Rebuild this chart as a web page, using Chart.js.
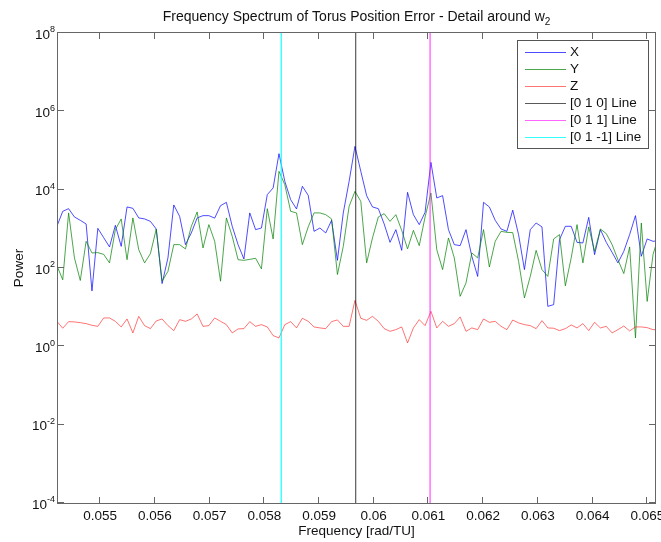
<!DOCTYPE html>
<html>
<head>
<meta charset="utf-8">
<script src="https://cdn.jsdelivr.net/npm/chart.js@4"></script>
<style>
html,body{margin:0;padding:0;background:#fff;}
canvas{display:block;}
</style>
</head>
<body>
<canvas id="spectrum" width="661" height="542"></canvas>
<script>
const FONT = '"Liberation Sans", Arial, Helvetica, sans-serif';

// FFT bin grid [rad/TU]
const freqStart = 0.054210;
const freqStep = 0.0001068;

// Power per bin for each position error component
const powerX = [
  1160, 2800, 3270, 2010, 1650, 1330, 26, 1030, 596, 345,
  1230, 357, 3620, 3340, 1900, 1790, 1550, 990, 40, 181,
  4070, 2080, 395, 785, 1900, 2170, 2170, 1880, 3910, 4740,
  1160, 395, 170, 2550, 953, 1050, 7460, 11070, 83000, 16300,
  5560, 3220, 12200, 7160, 863, 1050, 785, 1650, 157, 2550,
  16300, 127600, 29400, 7000, 3620, 3270, 1330, 452, 953, 282,
  8550, 2300, 1280, 2640, 49800, 6140, 7040, 953, 395, 372,
  953, 199, 61, 4740, 3620, 1650, 990, 863, 3000, 711,
  91, 953, 1410, 1120, 10.5, 11.6, 530, 1160, 1160, 452,
  436, 1960, 219, 953, 452, 251, 135, 266, 711, 2170,
  199, 552, 480, 500
];
const powerY = [
  115, 50, 2550, 181, 48, 480, 242, 247, 223, 135,
  953, 1790, 163, 1900, 294, 135, 233, 990, 46, 82,
  395, 395, 307, 1160, 2700, 325, 1280, 480, 46, 1900,
  643, 163, 157, 166, 177, 95, 3270, 552, 29400, 13400,
  2800, 2550, 395, 1120, 2550, 2550, 2300, 1790, 68, 357,
  3750, 9060, 5030, 135, 585, 2010, 2440, 1550, 2300, 915,
  307, 915, 372, 2010, 8250, 294, 91, 585, 181, 18.9,
  41.5, 242, 181, 953, 106, 480, 863, 813, 800, 148,
  17.2, 61, 282, 91, 61, 552, 711, 35, 181, 1280,
  135, 1120, 266, 990, 754, 395, 163, 72, 345, 1.64,
  1410, 14, 219, 700
];
const powerZ = [
  4.35, 2.9, 4.27, 4.2, 4.03, 3.8, 3.44, 3.24, 5.3, 5.3,
  4.35, 3.13, 5.0, 2.2, 5.83, 3.38, 2.83, 4.45, 5.0, 3.38,
  2.52, 4.8, 4.35, 5.0, 6.7, 3.24, 3.38, 5.3, 4.35, 3.58,
  2.2, 2.78, 2.83, 4.27, 3.24, 3.58, 3.13, 1.88, 1.64, 3.58,
  4.27, 2.95, 5.2, 4.35, 3.13, 2.95, 2.83, 4.27, 4.72, 3.24,
  3.24, 14.9, 5.2, 4.61, 5.83, 4.35, 2.83, 2.42, 2.67, 3.13,
  1.22, 2.95, 4.8, 3.38, 7.83, 2.95, 4.35, 3.24, 3.8, 5.63,
  2.42, 2.95, 2.67, 5.0, 4.1, 4.35, 3.24, 2.67, 4.7, 3.96,
  3.58, 3.38, 2.83, 4.53, 2.95, 2.9, 2.52, 2.83, 3.52, 2.95,
  3.8, 2.52, 4.1, 2.95, 3.24, 2.2, 2.67, 3.3, 2.47, 3.13,
  3.13, 3.0, 2.67, 2.67
];

// Combination frequencies marked on the spectrum
const lineFreq010 = 0.05967;
const lineFreq011 = 0.06103;
const lineFreq01m1 = 0.05831;

const xRange = [0.05423, 0.06514];
const yRange = [1e-4, 1e8];
const xTickValues = [0.055, 0.056, 0.057, 0.058, 0.059, 0.06, 0.061, 0.062, 0.063, 0.064, 0.065];
const yTickExponents = [-4, -2, 0, 2, 4, 6, 8];
const seriesNames = ['X', 'Y', 'Z', '[0 1 0] Line', '[0 1 1] Line', '[0 1 -1] Line'];

const binFreqs = powerX.map((_, i) => freqStart + i * freqStep);
const toPoints = arr => arr.map((p, i) => ({ x: binFreqs[i], y: p }));
const vline = f => [{ x: f, y: yRange[0] }, { x: f, y: yRange[1] }];

const seriesStyles = [
  { color: 'rgba(0,0,255,0.7)', width: 1 },
  { color: 'rgba(0,128,0,0.7)', width: 1 },
  { color: 'rgba(255,0,0,0.55)', width: 1 },
  { color: 'rgba(0,0,0,0.65)', width: 1.2 },
  { color: 'rgba(255,0,255,0.6)', width: 1.4 },
  { color: 'rgba(0,255,255,0.8)', width: 1.4 }
];
const seriesData = [
  toPoints(powerX), toPoints(powerY), toPoints(powerZ),
  vline(lineFreq010), vline(lineFreq011), vline(lineFreq01m1)
];

const LABEL_PX = 13.5;

// Axes box, inward ticks, labels, title and legend
const axesDecor = {
  id: 'axesDecor',
  afterDraw(chart) {
    const { ctx, chartArea: a, scales: { x, y } } = chart;
    const L = Math.round(a.left), R = Math.round(a.right);
    const T = Math.round(a.top), B = Math.round(a.bottom);
    const tick = 6;
    ctx.save();
    ctx.strokeStyle = '#666';
    ctx.lineWidth = 1;
    ctx.strokeRect(L - 0.5, T - 0.5, R - L + 1, B - T + 1);

    ctx.beginPath();
    xTickValues.forEach(v => {
      const px = Math.round(x.getPixelForValue(v)) - 0.5;
      ctx.moveTo(px, B); ctx.lineTo(px, B - tick);
      ctx.moveTo(px, T); ctx.lineTo(px, T + tick);
    });
    yTickExponents.forEach(e => {
      const py = Math.round(y.getPixelForValue(Math.pow(10, e))) - 0.5;
      ctx.moveTo(L, py); ctx.lineTo(L + tick, py);
      ctx.moveTo(R, py); ctx.lineTo(R - tick, py);
    });
    ctx.stroke();

    ctx.fillStyle = '#111';
    ctx.font = LABEL_PX + 'px ' + FONT;
    ctx.textAlign = 'center';
    ctx.textBaseline = 'middle';
    xTickValues.forEach(v => {
      ctx.fillText(String(+v.toFixed(3)), x.getPixelForValue(v), B + 13);
    });

    yTickExponents.forEach(e => {
      const py = y.getPixelForValue(Math.pow(10, e));
      ctx.font = '9px ' + FONT;
      const expStr = String(e);
      const ew = ctx.measureText(expStr).width;
      const ex = L - 3 - ew;
      ctx.textAlign = 'left';
      ctx.textBaseline = 'middle';
      ctx.fillText(expStr, ex, py - 3);
      ctx.font = LABEL_PX + 'px ' + FONT;
      ctx.textAlign = 'right';
      ctx.fillText('10', ex, py + 2);
    });

    // title with subscript
    const cx = (L + R) / 2;
    const mainTitle = 'Frequency Spectrum of Torus Position Error - Detail around w';
    ctx.font = '14px ' + FONT;
    const mw = ctx.measureText(mainTitle).width;
    ctx.font = '10px ' + FONT;
    const sw = ctx.measureText('2').width;
    const tx = cx - (mw + sw) / 2;
    ctx.textAlign = 'left';
    ctx.textBaseline = 'alphabetic';
    ctx.font = '14px ' + FONT;
    ctx.fillText(mainTitle, tx, 21);
    ctx.font = '10px ' + FONT;
    ctx.fillText('2', tx + mw, 25);

    // axis labels
    ctx.font = LABEL_PX + 'px ' + FONT;
    ctx.textAlign = 'center';
    ctx.textBaseline = 'middle';
    ctx.fillText('Frequency [rad/TU]', cx, 531);
    ctx.save();
    ctx.translate(19, (T + B) / 2);
    ctx.rotate(-Math.PI / 2);
    ctx.fillText('Power', 0, 0);
    ctx.restore();

    // legend
    const lx = 517, ly = 40, lw = 131, lh = 108;
    ctx.fillStyle = '#fff';
    ctx.fillRect(lx, ly, lw, lh);
    ctx.strokeStyle = '#555';
    ctx.strokeRect(lx + 0.5, ly + 0.5, lw, lh);
    ctx.font = LABEL_PX + 'px ' + FONT;
    ctx.textAlign = 'left';
    ctx.textBaseline = 'middle';
    chart.data.datasets.forEach((ds, i) => {
      const ry = ly + 11.5 + i * 17;
      ctx.strokeStyle = ds.borderColor;
      ctx.lineWidth = 1;
      ctx.beginPath();
      ctx.moveTo(525, Math.round(ry) + 0.5);
      ctx.lineTo(566, Math.round(ry) + 0.5);
      ctx.stroke();
      ctx.fillStyle = '#111';
      ctx.fillText(ds.label, 570, ry + 0.5);
    });
    ctx.restore();
  }
};

new Chart(document.getElementById('spectrum'), {
  type: 'line',
  data: {
    datasets: seriesNames.map((name, i) => ({
      label: name,
      data: seriesData[i],
      borderColor: seriesStyles[i].color,
      borderWidth: seriesStyles[i].width,
      pointRadius: 0,
      tension: 0,
      fill: false,
      order: seriesNames.length - i
    }))
  },
  options: {
    responsive: false,
    animation: false,
    devicePixelRatio: 1,
    layout: { padding: { left: 58, right: 6, top: 33, bottom: 39 } },
    plugins: { legend: { display: false }, tooltip: { enabled: false }, title: { display: false } },
    scales: {
      x: { type: 'linear', min: xRange[0], max: xRange[1], display: false },
      y: { type: 'logarithmic', min: yRange[0], max: yRange[1], display: false }
    }
  },
  plugins: [axesDecor]
});
</script>
</body>
</html>
